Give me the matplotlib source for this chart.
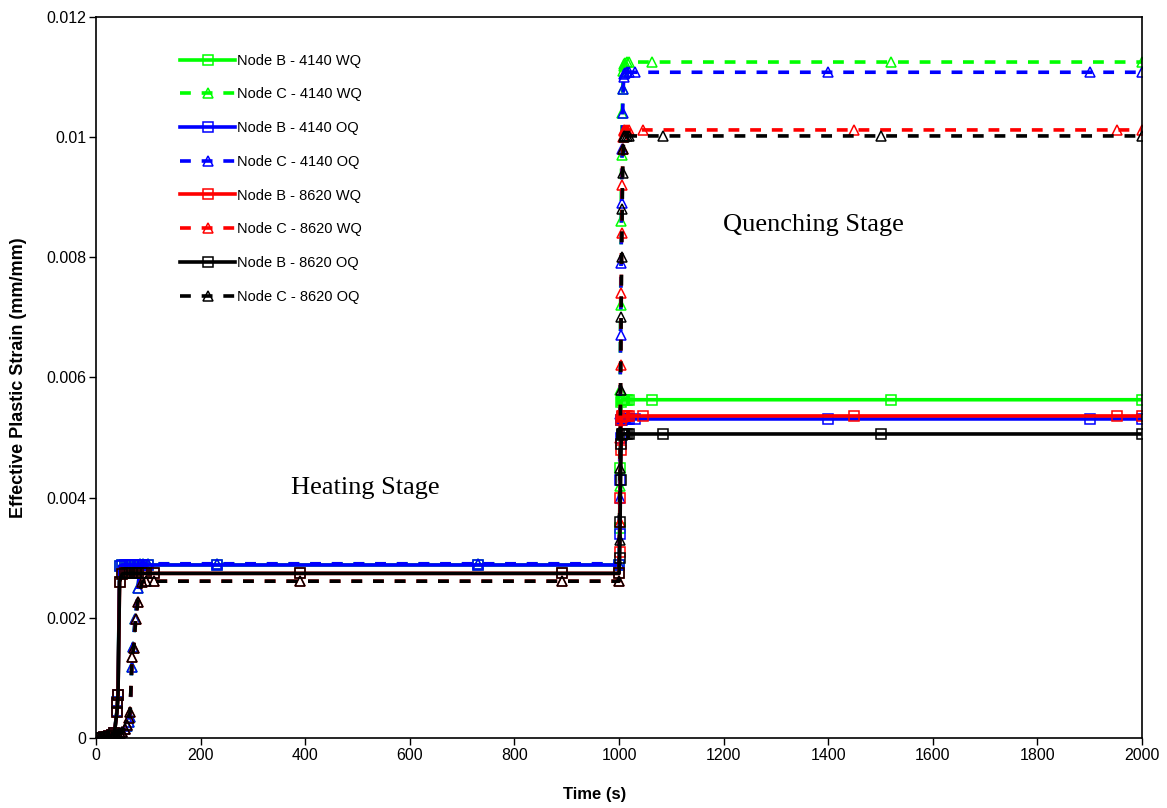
import numpy as np
import matplotlib
matplotlib.use('Agg')
import matplotlib.pyplot as plt

# heating stage time steps (s), one set per steel
th_4140 = [0, 5, 10, 15, 20, 25, 30, 35, 40, 41, 42, 45, 50, 55, 60, 63, 65,
           68, 70, 75, 80, 85, 90, 100, 231, 731, 1000]
th_8620 = [0, 5, 10, 15, 20, 25, 30, 35, 40, 41, 42, 45, 50, 55, 60, 63, 65,
           69, 72, 76, 80, 88, 95, 110, 390, 891, 1000]

hB_4140 = [0, 0, 0, 0.00001, 0.00002, 0.00003, 0.00005, 0.00008, 0.00045,
           0.0006, 0.00072, 0.00286, 0.00288, 0.00288, 0.00288, 0.00288,
           0.00288, 0.00288, 0.00288, 0.00288, 0.00288, 0.00288, 0.00288,
           0.00288, 0.00288, 0.00288, 0.00288]
hC_4140 = [0, 0, 0, 0, 0, 0.00001, 0.00002, 0.00003, 0.00004, 0.00005,
           0.00006, 0.00008, 0.0001, 0.00015, 0.0002, 0.00026, 0.00035,
           0.00118, 0.00152, 0.00198, 0.0025, 0.0029, 0.0029, 0.0029,
           0.0029, 0.0029, 0.0029]
hB_8620 = [0, 0, 0, 0.00001, 0.00002, 0.00003, 0.00005, 0.00008, 0.00043,
           0.00058, 0.00072, 0.0026, 0.00273, 0.00274, 0.00274, 0.00274,
           0.00274, 0.00274, 0.00274, 0.00274, 0.00274, 0.00274, 0.00274,
           0.00274, 0.00274, 0.00274, 0.00274]
hC_8620 = [0, 0, 0, 0, 0, 0.00001, 0.00002, 0.00003, 0.00004, 0.00005,
           0.00006, 0.00008, 0.0001, 0.00015, 0.00022, 0.00033, 0.00043,
           0.00135, 0.0015, 0.00198, 0.00226, 0.0026, 0.00261, 0.00261,
           0.00261, 0.00261, 0.00261]

# quench stage time steps (s), one set per steel / quenchant
tq_4140wq = [1001, 1002, 1003, 1004, 1005, 1006, 1007, 1008, 1009, 1010,
             1012, 1015, 1020, 1063, 1520, 2000]
tq_4140oq = [1001, 1002, 1003, 1004, 1005, 1006, 1007, 1008, 1009, 1010,
             1012, 1015, 1020, 1030, 1400, 1900, 2000]
tq_8620wq = [1001, 1002, 1003, 1004, 1005, 1006, 1007, 1008, 1009, 1010,
             1012, 1015, 1020, 1045, 1450, 1952, 2000]
tq_8620oq = [1001, 1002, 1003, 1004, 1005, 1006, 1007, 1008, 1009, 1010,
             1012, 1015, 1020, 1085, 1500, 2000]

qB_4140wq = [0.0035, 0.0045, 0.0053, 0.0056, 0.00562, 0.00563, 0.00563,
             0.00563, 0.00563, 0.00563, 0.00563, 0.00563, 0.00563, 0.00563,
             0.00563, 0.00563]
qC_4140wq = [0.0042, 0.0058, 0.0072, 0.0086, 0.0097, 0.0104, 0.0108,
             0.0111, 0.01118, 0.01122, 0.01124, 0.01125, 0.01125, 0.01125,
             0.01125, 0.01125]
qB_4140oq = [0.0034, 0.0043, 0.0050, 0.0053, 0.0053, 0.00531, 0.00531,
             0.00531, 0.00531, 0.00531, 0.00531, 0.00531, 0.00531, 0.00531,
             0.00531, 0.00531, 0.00531]
qC_4140oq = [0.0040, 0.0054, 0.0067, 0.0079, 0.0089, 0.0098, 0.0104,
             0.0108, 0.0110, 0.01105, 0.01107, 0.01108, 0.01108, 0.01108,
             0.01108, 0.01108, 0.01108]
qB_8620wq = [0.0031, 0.0040, 0.0048, 0.0053, 0.00535, 0.00536, 0.00536,
             0.00536, 0.00536, 0.00536, 0.00536, 0.00536, 0.00536, 0.00536,
             0.00536, 0.00536, 0.00536]
qC_8620wq = [0.0036, 0.0050, 0.0062, 0.0074, 0.0084, 0.0092, 0.0098,
             0.0100, 0.0101, 0.01012, 0.01012, 0.01012, 0.01012, 0.01012,
             0.01012, 0.01012, 0.01012]
qB_8620oq = [0.0030, 0.0036, 0.0043, 0.0049, 0.00505, 0.00506, 0.00506,
             0.00506, 0.00506, 0.00506, 0.00506, 0.00506, 0.00506, 0.00506,
             0.00506, 0.00506]
qC_8620oq = [0.0033, 0.0045, 0.0058, 0.0070, 0.0080, 0.0088, 0.0094,
             0.0098, 0.0100, 0.01002, 0.01002, 0.01002, 0.01002, 0.01002,
             0.01002, 0.01002]

series = [
    ('Node B - 4140 WQ', th_4140 + tq_4140wq, hB_4140 + qB_4140wq, '#00FF00', '-', 's'),
    ('Node C - 4140 WQ', th_4140 + tq_4140wq, hC_4140 + qC_4140wq, '#00FF00', '--', '^'),
    ('Node B - 4140 OQ', th_4140 + tq_4140oq, hB_4140 + qB_4140oq, '#0000FF', '-', 's'),
    ('Node C - 4140 OQ', th_4140 + tq_4140oq, hC_4140 + qC_4140oq, '#0000FF', '--', '^'),
    ('Node B - 8620 WQ', th_8620 + tq_8620wq, hB_8620 + qB_8620wq, '#FF0000', '-', 's'),
    ('Node C - 8620 WQ', th_8620 + tq_8620wq, hC_8620 + qC_8620wq, '#FF0000', '--', '^'),
    ('Node B - 8620 OQ', th_8620 + tq_8620oq, hB_8620 + qB_8620oq, '#000000', '-', 's'),
    ('Node C - 8620 OQ', th_8620 + tq_8620oq, hC_8620 + qC_8620oq, '#000000', '--', '^'),
]

plt.rcParams['font.family'] = ['Liberation Sans', 'DejaVu Sans']

fig = plt.figure(figsize=(11.67, 8.08), dpi=100)
ax = fig.add_axes([0.0823, 0.0866, 0.8963, 0.8924])

for lab, t, v, c, ls, mk in series:
    ax.plot(t, v, color=c, linestyle=ls, linewidth=2.6, marker=mk,
            markersize=7.5, markerfacecolor='none', markeredgecolor=c,
            markeredgewidth=1.1, dashes=(3, 3) if ls == '--' else (None, None),
            label=lab)

ax.set_xlim(0, 2000)
ax.set_ylim(0, 0.012)
ax.set_xticks(np.arange(0, 2001, 200))
ax.set_yticks([0, 0.002, 0.004, 0.006, 0.008, 0.01, 0.012])
ax.set_yticklabels(['0', '0.002', '0.004', '0.006', '0.008', '0.01', '0.012'])
ax.tick_params(direction='out', length=5, width=1, labelsize=11.5, pad=2)
for s in ax.spines.values():
    s.set_linewidth(1.2)

ax.set_xlabel('Time (s)', fontsize=12, fontweight='bold')
ax.xaxis.set_label_coords(0.477, -0.068)
ax.set_ylabel('Effective Plastic Strain (mm/mm)', fontsize=13,
              fontweight='bold')
ax.yaxis.set_label_coords(-0.066, 0.5)

ax.text(514, 0.00416, 'Heating Stage', family=['Liberation Serif'],
        fontsize=19, ha='center', va='center')
ax.text(1371, 0.00854, 'Quenching Stage', family=['Liberation Serif'],
        fontsize=19, ha='center', va='center')

ax.legend(loc='upper left', bbox_to_anchor=(0.0746, 0.957), frameon=False,
          fontsize=10.5, handlelength=3.8, handletextpad=0.1,
          labelspacing=1.35, borderaxespad=0)

fig.savefig('out.png', dpi=100)
